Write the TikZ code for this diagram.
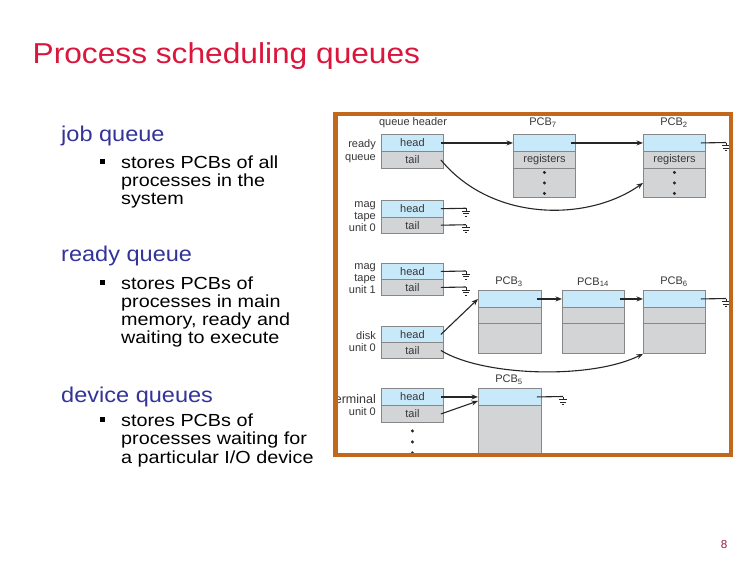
\documentclass[tikz,border=0pt]{standalone}
\usepackage{fontspec}
\setmainfont{Liberation Sans}
\newfontfamily\wideA[FakeStretch=1.1]{Liberation Sans}
\newfontfamily\wideB[FakeStretch=1.13]{Liberation Sans}
\usetikzlibrary{arrows.meta,calc}
\definecolor{titlered}{RGB}{218,22,60}
\definecolor{headblue}{RGB}{51,51,153}
\definecolor{frameor}{RGB}{193,104,28}
\definecolor{hblue}{RGB}{200,233,250}
\definecolor{cgray}{RGB}{211,212,214}
\definecolor{bgray}{RGB}{135,135,135}
\definecolor{dtext}{RGB}{55,55,55}
\definecolor{pgnum}{RGB}{150,30,70}
\tikzset{
  hstyle/.style={anchor=base west, inner sep=0pt, text=headblue, font=\wideA\fontsize{21.4}{24}\selectfont},
  bstyle/.style={anchor=base west, inner sep=0pt, text=black, font=\wideB\fontsize{17.5}{20}\selectfont},
  bul/.style={fill=black, minimum size=5pt, inner sep=0pt},
  box/.style={draw=bgray, line width=0.9pt, minimum width=62pt, inner sep=0pt, anchor=north west, font=\fontsize{11}{12}\selectfont, text=dtext},
  hb/.style={box, fill=hblue, minimum height=#1},
  gb/.style={box, fill=cgray, minimum height=#1},
  lbl/.style={inner sep=0pt, font=\fontsize{11}{12}\selectfont, text=dtext},
  arr/.style={-{Stealth[length=6.5pt,width=5pt]}, line width=1.1pt, draw=black!85},
  ln/.style={line width=1.1pt, draw=black!85},
  gnd/.pic={\draw[line width=0.8pt, black!85] (0,0)--(0,3) (-4,3)--(4,3) (-2.6,5.5)--(2.6,5.5) (-1.2,8)--(1.2,8);}
}
\begin{document}
\begin{tikzpicture}[x=1pt,y=-1pt]
\useasboundingbox (0,0) rectangle (756,576);
\fill[white] (0,0) rectangle (756,576);

% title
\node[anchor=base west, inner sep=0pt, text=titlered, font=\wideA\fontsize{28.8}{34}\selectfont] (title) at (32.5,63) {Process scheduling queues};

% left text
\node[hstyle] (jq) at (61,141) {job queue};
\node[bul] (jbul) at (102,161) {};
\node[bstyle] (jb1) at (121,168) {stores PCBs of all};
\node[bstyle] (jb2) at (121,186.3) {processes in the};
\node[bstyle] (jb3) at (121,204.6) {system};

\node[hstyle] (rq) at (61,261) {ready queue};
\node[bul] (rbul) at (102,282) {};
\node[bstyle] (rb1) at (121,289) {stores PCBs of};
\node[bstyle] (rb2) at (121,307.3) {processes in main};
\node[bstyle] (rb3) at (121,325.6) {memory, ready and};
\node[bstyle] (rb4) at (121,343.9) {waiting to execute};

\node[hstyle] (dq) at (61,402) {device queues};
\node[bul] (dbul) at (102,419) {};
\node[bstyle] (db1) at (121,426) {stores PCBs of};
\node[bstyle] (db2) at (121,444.5) {processes waiting for};
\node[bstyle] (db3) at (121,463) {a particular I/O device};

% diagram
\begin{scope}
\clip (337.5,116.25) rectangle (728.75,452.75);
\fill[white] (337.5,116.25) rectangle (728.75,452.75);

\node[lbl] (qh) at (413,122.5) {queue header};
\node[lbl] (l7) at (543,122.5) {PCB\textsubscript{7}};
\node[lbl] (l2) at (674,122.5) {PCB\textsubscript{2}};
\node[lbl] (l3) at (509,282) {PCB\textsubscript{3}};
\node[lbl] (l14) at (593,282) {PCB\textsubscript{14}};
\node[lbl] (l6) at (674,282) {PCB\textsubscript{6}};
\node[lbl] (l5) at (509,380) {PCB\textsubscript{5}};

% queue headers
\node[hb=17pt] (rqh) at (381,134) {head};
\node[gb=17pt] (rqt) at (381,151) {tail};
\node[hb=16.5pt] (m0h) at (381,200) {head};
\node[gb=16.5pt] (m0t) at (381,216.5) {tail};
\node[hb=16pt] (m1h) at (381,263) {head};
\node[gb=16pt] (m1t) at (381,279) {tail};
\node[hb=16pt] (dkh) at (381,326) {head};
\node[gb=16pt] (dkt) at (381,342) {tail};
\node[hb=17pt] (tmh) at (381,388) {head};
\node[gb=17pt] (tmt) at (381,405) {tail};

% device labels
\node[lbl, align=right, anchor=east, font=\fontsize{11}{13.5}\selectfont] (lrq) at (376,151) {ready\\queue};
\node[lbl, align=right, anchor=east] (lm0) at (376,216.5) {mag\\tape\\unit 0};
\node[lbl, align=right, anchor=east] (lm1) at (376,279) {mag\\tape\\unit 1};
\node[lbl, align=right, anchor=east] (ldk) at (376,342) {disk\\unit 0};
\node[lbl, align=right, anchor=east] (ltm) at (376,405) {\fontsize{12.5}{12}\selectfont terminal\\\fontsize{11}{12}\selectfont unit 0};

% PCBs ready queue
\node[hb=17pt] (p7h) at (513,134) {};
\node[gb=17pt] (p7r) at (513,151) {registers};
\node[gb=29pt] (p7d) at (513,168) {};
\node[hb=17pt] (p2h) at (643,134) {};
\node[gb=17pt] (p2r) at (643,151) {registers};
\node[gb=29pt] (p2d) at (643,168) {};
\foreach \n in {p7d,p2d}{
  \fill[black!85] ($(\n.center)+(0,-10.5)$) circle (1.7);
  \fill[black!85] (\n.center) circle (1.7);
  \fill[black!85] ($(\n.center)+(0,10.5)$) circle (1.7);
}

% PCBs disk
\node[hb=17pt, minimum width=63pt] (p3h) at (478,290) {};
\node[gb=16pt, minimum width=63pt] (p3m) at (478,307) {};
\node[gb=30pt, minimum width=63pt] (p3b) at (478,323) {};
\node[hb=17pt] (p14h) at (562,290) {};
\node[gb=16pt] (p14m) at (562,307) {};
\node[gb=30pt] (p14b) at (562,323) {};
\node[hb=17pt] (p6h) at (643,290) {};
\node[gb=16pt] (p6m) at (643,307) {};
\node[gb=30pt] (p6b) at (643,323) {};

% PCB terminal
\node[hb=17pt, minimum width=63pt] (p5h) at (478,388) {};
\node[gb=48pt, minimum width=63pt] (p5b) at (478,405) {};

% terminal dots
\fill[black!85] ($(tmt.south)+(0,8)$) circle (1.7);
\fill[black!85] ($(tmt.south)+(0,19)$) circle (1.7);
\fill[black!85] ($(tmt.south)+(0,30)$) circle (1.7);

% ground coordinates
\coordinate (g1) at (726,142.5);
\coordinate (g2) at (466,208.25);
\coordinate (g3) at (466,224.75);
\coordinate (g4) at (466,271);
\coordinate (g5) at (466,287);
\coordinate (g6) at (726,298.5);
\coordinate (g7) at (563,396.5);

% connectors
\draw[arr] ([xshift=-3pt]rqh.east) -- (p7h.west);
\draw[arr] ([xshift=-5pt]p7h.east) -- (p2h.west);
\draw[ln] ([xshift=-5pt]p2h.east) -- (g1); \pic at (g1) {gnd};
\draw[arr] ([xshift=-3pt]rqt.east) .. controls (492,222) and (588,222) .. (p2d.west);

\draw[ln] ([xshift=-3pt]m0h.east) -- (g2); \pic at (g2) {gnd};
\draw[ln] ([xshift=-3pt]m0t.east) -- (g3); \pic at (g3) {gnd};
\draw[ln] ([xshift=-3pt]m1h.east) -- (g4); \pic at (g4) {gnd};
\draw[ln] ([xshift=-3pt]m1t.east) -- (g5); \pic at (g5) {gnd};

\draw[arr] ([xshift=-3pt]dkh.east) -- (p3h.west);
\draw[arr] ([xshift=-5pt]p3h.east) -- (p14h.west);
\draw[arr] ([xshift=-5pt]p14h.east) -- (p6h.west);
\draw[ln] ([xshift=-5pt]p6h.east) -- (g6); \pic at (g6) {gnd};
\draw[arr] ([xshift=-3pt]dkt.east) .. controls (482,376) and (590,380) .. (p6b.south west);

\draw[arr] ([xshift=-3pt]tmh.east) -- (p5h.west);
\draw[arr] ([xshift=-3pt]tmt.east) -- ([yshift=-4pt]p5h.west);
\draw[ln] ([xshift=-5pt]p5h.east) -- (g7); \pic at (g7) {gnd};
\end{scope}

% frame
\draw[frameor, line width=4.5pt] (335.25,114) rectangle (731,455);

% page number
\node[anchor=base, inner sep=0pt, text=pgnum, font=\fontsize{11.6}{12}\selectfont] (pg) at (724,548) {8};
\end{tikzpicture}
\end{document}
